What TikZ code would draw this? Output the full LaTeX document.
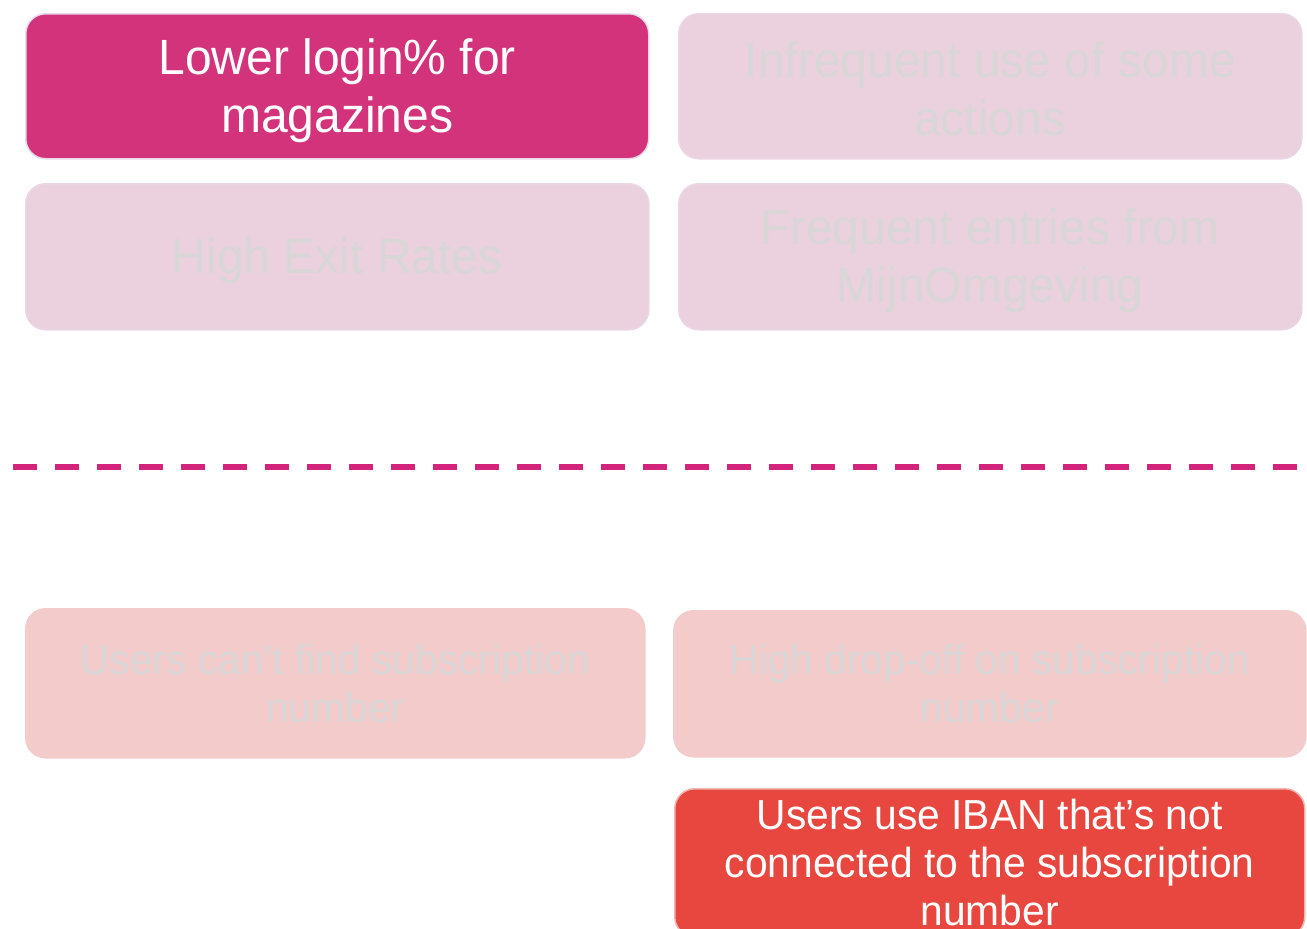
\documentclass[tikz,border=0pt]{standalone}
\usepackage{fontspec}
\setmainfont{Liberation Sans}[FakeStretch=0.97]
\definecolor{magenta1}{HTML}{D3337A}
\definecolor{lavborder}{HTML}{E9D9EC}
\definecolor{pinkfaint}{HTML}{EBD1DD}
\definecolor{salmonfaint}{HTML}{F3CBCB}
\definecolor{redbox}{HTML}{E8473F}
\definecolor{redborder}{HTML}{F2B4B0}
\definecolor{fainttext}{HTML}{D9D6D8}
\definecolor{dashcol}{HTML}{D4237A}
\tikzset{
  card/.style={rounded corners=20pt, line width=1.5pt, align=center, inner sep=0pt, anchor=north west},
  bigtext/.style={font=\fontsize{49.5}{58}\selectfont, align=center, inner sep=0pt},
  smalltext/.style={font=\fontsize{42}{48}\selectfont},
  focusM/.style={card, fill=magenta1, draw=lavborder, text=white},
  dimM/.style={card, fill=pinkfaint, draw=lavborder!60!pinkfaint, text=fainttext},
  dimR/.style={card, fill=salmonfaint, draw=salmonfaint, text=fainttext},
  focusR/.style={card, fill=redbox, draw=redborder, text=white},
  divider/.style={draw=dashcol, line width=6pt, dash pattern=on 24pt off 18pt}
}
\begin{document}
\begin{tikzpicture}[x=1pt,y=-1pt]
\clip (0,0) rectangle (1307,929);
\fill[white] (0,0) rectangle (1307,929);
\node[focusM, minimum width=623pt, minimum height=145pt] (a) at (25,13) {};
\node[bigtext, text=white] (at) at ([yshift=-4pt]a.center) {Lower login\% for\\magazines};
\node[dimM, minimum width=623pt, minimum height=145pt] (b) at (678,13) {};
\node[bigtext, text=fainttext] (bt) at ([yshift=-3pt]b.center) {Infrequent use of some\\actions};
\node[dimM, minimum width=623pt, minimum height=146pt] (c) at (25,183) {};
\node[bigtext, text=fainttext] (ct) at ([yshift=-4pt]c.center) {High Exit Rates};
\node[dimM, minimum width=623pt, minimum height=146pt] (d) at (678,183) {};
\node[bigtext, text=fainttext] (dt) at ([yshift=-4pt]d.center) {Frequent entries from\\MijnOmgeving};
\coordinate (l1) at (13,467);
\coordinate (l2) at (1300,467);
\draw[divider] (l1) -- (l2);
\node[dimR, smalltext, minimum width=619pt, minimum height=149pt] (e) at (25,608) {Users can’t find subscription\\number};
\node[dimR, smalltext, minimum width=632pt, minimum height=146pt] (f) at (673,610) {High drop-off on subscription\\number};
\node[focusR, smalltext, minimum width=630pt, minimum height=148pt] (g) at (674,788) {Users use IBAN that’s not\\connected to the subscription\\number};
\end{tikzpicture}
\end{document}
